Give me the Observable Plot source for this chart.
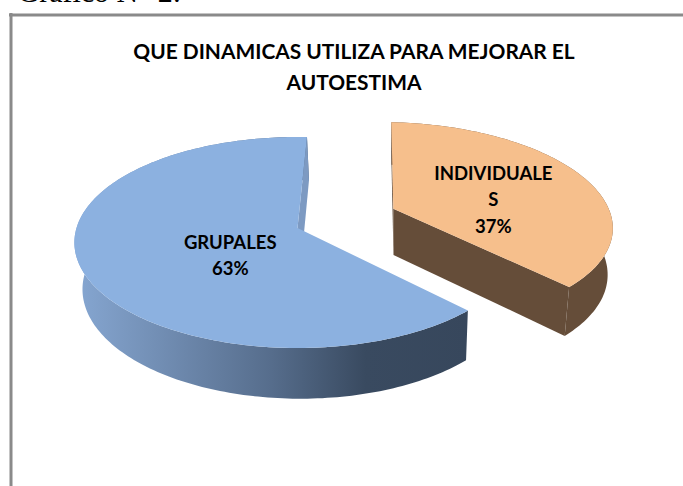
<!DOCTYPE html>
<html>
<head>
<meta charset="utf-8">
<script src="https://cdn.jsdelivr.net/npm/d3@7"></script>
<script src="https://cdn.jsdelivr.net/npm/@observablehq/plot@0.6"></script>
<style>html,body{margin:0;padding:0;background:#fff;overflow:hidden}svg{display:block}</style>
</head>
<body>
<div id="chart"></div>
<script>
const titleLines = ["QUE DINAMICAS UTILIZA PARA MEJORAR EL", "AUTOESTIMA"];
const caption = "Gráfico N° 2:";
const categories = ["INDIVIDUALES", "GRUPALES"];
const values = [37, 63];
const topColors = ["#f6bf8c", "#8cb1e0"];

// Pie view settings
const width = 683, height = 486;
const originX = 297, originY = 227.5, R = 221, T = 103.5;
const persp = 0.1375, depth = 48 / T, shrink = 0.025;
const vanishX = (400 - originX) / R;
const rotation = 2.8 * Math.PI / 180;
const explode = [{a: 0.445, b: -0.19}, {a: 0, b: 0}];
const labelPlace = [{r: 0.52, drop: 6.5}, {r: 0.32, drop: 13.5}];

const slices = d3.pie().sort(null).startAngle(rotation).endAngle(rotation + 2 * Math.PI)(values);

function project(slice, angle, r, lower) {
  const e = explode[slice];
  const a = e.a + r * Math.sin(angle), b = e.b - r * Math.cos(angle);
  const den = 1 - persp * b;
  return lower
    ? {x: (a + vanishX * shrink) / (den + shrink), y: (b + depth) / (den + shrink)}
    : {x: a / den, y: b / den};
}
function arcAngles(s) {
  const n = Math.ceil((s.endAngle - s.startAngle) / 0.02);
  return d3.range(n + 1).map(i => s.startAngle + (s.endAngle - s.startAngle) * i / n);
}
function topFace(i) {
  return [project(i, 0, 0, false), ...arcAngles(slices[i]).map(t => project(i, t, 1, false))];
}
function rim(i) {
  const as = arcAngles(slices[i]);
  return [...as.map(t => project(i, t, 1, false)), ...as.slice().reverse().map(t => project(i, t, 1, true))];
}
function wall(i, angle) {
  return [project(i, 0, 0, false), project(i, angle, 1, false), project(i, angle, 1, true), project(i, 0, 0, true)];
}
const poly = (rows, fill) => Plot.line(rows, {x: "x", y: "y", fill, stroke: "none", curve: "linear"});

const labels = slices.map((s, i) => {
  const mid = (s.startAngle + s.endAngle) / 2;
  const p = project(i, mid, labelPlace[i].r, false);
  return {
    x: p.x,
    y: p.y + labelPlace[i].drop / T,
    text: categories[i].match(/.{1,11}/g).join("\n") + "\n" + values[i] + "%"
  };
});

const gradient = () => {
  const defs = d3.create("svg:defs");
  const g = defs.append("linearGradient").attr("id", "rimBlue");
  [[0, "#86a7d2"], [0.12, "#7b99c1"], [0.5, "#566d8c"], [0.74, "#394a60"], [1, "#37475c"]]
    .forEach(([o, c]) => g.append("stop").attr("offset", o).attr("stop-color", c));
  return defs.node();
};

const font = "Lato, Carlito, Calibri, sans-serif";
const chart = Plot.plot({
  width, height, margin: 0,
  style: {background: "#fff", overflow: "hidden"},
  x: {domain: [-originX / R, (width - originX) / R], range: [0, width], axis: null},
  y: {domain: [-originY / T, (height - originY) / T], range: [0, height], axis: null},
  marks: [
    gradient,
    // frame of the picture: top and left edges only
    Plot.ruleY([0], {x1: (9 - originX) / R, x2: (width - originX) / R, y: (14.5 - originY) / T, stroke: "#8a8a8a", strokeWidth: 3}),
    Plot.ruleX([0], {x: (10.5 - originX) / R, y1: (13 - originY) / T, y2: (height - originY) / T, stroke: "#8a8a8a", strokeWidth: 3}),
    Plot.text([caption], {text: d => d, frameAnchor: "top-left", dx: 17, dy: 1.5, fontFamily: "'Liberation Serif', serif", fontSize: 30, textAnchor: "start", lineAnchor: "bottom", fill: "#000"}),
    // GRUPALES
    poly(rim(1), "url(#rimBlue)"),
    poly(wall(1, slices[1].endAngle), "#7d9ac2"),
    poly(topFace(1), topColors[1]),
    // INDIVIDUALES
    poly(wall(0, slices[0].startAngle), "#654d39"),
    poly(rim(0), "#654d39"),
    poly(wall(0, slices[0].endAngle), "#654d39"),
    poly(topFace(0), topColors[0]),
    // title and labels
    Plot.text([titleLines.join("\n")], {text: d => d, frameAnchor: "top", dx: 12, dy: 37, fontFamily: font, fontWeight: 700, fontSize: 20.9, lineHeight: 1.46, fill: "#000", lineAnchor: "top"}),
    Plot.text(labels, {x: "x", y: "y", text: "text", fontFamily: font, fontWeight: 700, fontSize: 18.5, lineHeight: 1.43, fill: "#000"})
  ]
});
document.getElementById("chart").append(chart);
</script>
</body>
</html>
